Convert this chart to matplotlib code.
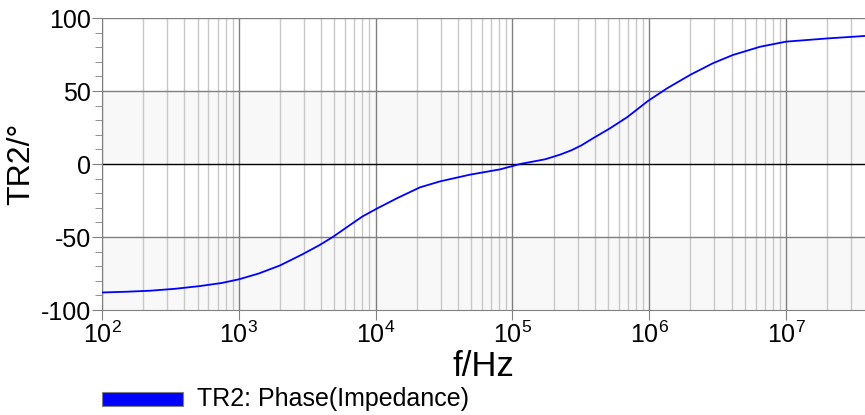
import numpy as np
import matplotlib
matplotlib.use("Agg")
import matplotlib.pyplot as plt
from matplotlib.patches import Rectangle
from matplotlib.ticker import MultipleLocator, FixedLocator

plt.rcParams['font.family'] = ['Liberation Sans', 'DejaVu Sans']
plt.rcParams['mathtext.fontset'] = 'custom'
plt.rcParams['mathtext.rm'] = 'Liberation Sans'
plt.rcParams['mathtext.it'] = 'Liberation Sans'

# data
freq = [100, 150, 224, 340, 520, 750, 1000, 1400, 2000, 2900, 3900, 4900,
        6500, 8000, 1.0e4, 1.43e4, 2.11e4, 2.96e4, 4.9e4, 8.1e4, 1.14e5,
        1.73e5, 2.23e5, 2.7e5, 3.2e5, 3.88e5, 5.16e5, 6.89e5, 9.8e5,
        1.35e6, 1.99e6, 2.92e6, 4.1e6, 6.46e6, 1.0e7, 2.0e7, 3.78e7]
phase = [-88.0, -87.5, -86.8, -85.5, -83.6, -81.5, -79.0, -75.0, -69.5,
         -62.0, -55.5, -49.8, -41.8, -36.0, -31.0, -23.5, -16.0, -11.9,
         -7.3, -3.7, 0.0, 3.2, 6.4, 9.4, 12.8, 17.6, 24.4, 32.0, 43.2,
         51.8, 61.0, 69.0, 74.7, 80.3, 83.8, 86.0, 87.7]

xmin, xmax = 100, 3.78e7
yticks = [-100, -50, 0, 50, 100]

fig = plt.figure(figsize=(8.65, 4.15), dpi=100)
ax = fig.add_axes([102 / 865, 1 - 310 / 415, 1 - 102 / 865, (310 - 18) / 415])

ax.set_xscale('log')
ax.set_xlim(xmin, xmax)
ax.set_ylim(-100, 100)

# shaded bands
ax.axhspan(0, 50, color='#f8f8f8', zorder=0)
ax.axhspan(-100, -50, color='#f8f8f8', zorder=0)

# vertical grid
minors = [m * 10 ** e for e in range(2, 8) for m in range(2, 10) if m * 10 ** e < xmax]
for xv in minors:
    ax.axvline(xv, color='#c8c8c8', lw=1.0, zorder=1)
for e in range(2, 8):
    ax.axvline(10 ** e, color='#808080', lw=1.0, zorder=1)

# horizontal grid
for yv in [-50, 50, 100]:
    ax.axhline(yv, color='#808080', lw=1.0, zorder=1)
ax.axhline(0, color='black', lw=1.0, zorder=2)

ax.plot(freq, phase, color='#0000ff', lw=1.3, zorder=3)

for s in ['top', 'right']:
    ax.spines[s].set_visible(False)
ax.spines['left'].set_color('#808080')
ax.spines['bottom'].set_color('#808080')

ax.xaxis.set_major_locator(FixedLocator([10 ** e for e in range(2, 8)]))
ax.xaxis.set_minor_locator(FixedLocator([]))
ax.set_xticklabels([r'$\mathdefault{10^{%d}}$' % e for e in range(2, 8)])
ax.yaxis.set_major_locator(FixedLocator(yticks))
ax.yaxis.set_minor_locator(MultipleLocator(10))
ax.set_yticklabels([str(v) for v in yticks])

ax.tick_params(axis='both', which='major', direction='out', length=7,
               color='#808080', labelsize=18, pad=1)
ax.tick_params(axis='y', which='minor', direction='out', length=5,
               color='#808080')

ax.set_xlabel('f/Hz', fontsize=25, labelpad=2)
ax.set_ylabel('TR2/°', fontsize=23, labelpad=3)

# legend drawn below the plot
fig.patches.append(Rectangle((102 / 865, 1 - 406 / 415), 81 / 865, 14 / 415,
                             transform=fig.transFigure, facecolor='#0000ff',
                             edgecolor='#808080', lw=0.8))
fig.text(197 / 865, 1 - 399 / 415, 'TR2: Phase(Impedance)', fontsize=18,
         va='center', ha='left')

fig.savefig('out.png', dpi=100)
